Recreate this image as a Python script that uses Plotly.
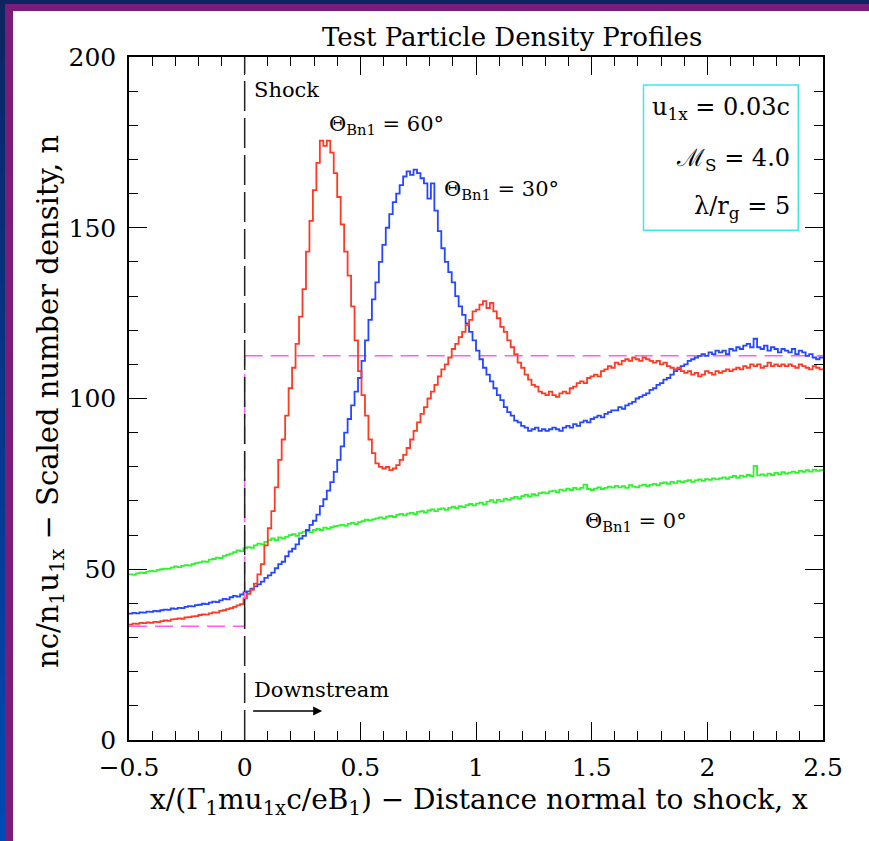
import numpy as np
import plotly.graph_objects as go

# ---------------- data ----------------
bin_start = -0.5
bin_width = 0.015

red_60 = [
    33.8, 34.1, 34.0, 34.3, 34.2, 34.4, 34.3, 34.6, 34.5, 34.8,
    35.0, 34.9, 35.3, 35.4, 35.6, 35.5, 35.9, 36.0, 36.2, 36.3,
    36.6, 36.8, 36.7, 37.1, 37.4, 37.3, 37.8, 38.0, 38.3, 38.6,
    39.0, 39.4, 39.8, 41.5, 42.8, 44.0, 45.8, 48.5, 51.5, 57.0,
    62, 67, 74, 82, 88, 95, 103, 109, 116, 124,
    132, 143, 152, 161, 169, 175.5, 174, 175.5, 172, 166,
    159, 151, 143, 136, 127, 117, 108, 101, 95, 88,
    84, 81, 80, 79.5, 80, 79, 79.5, 80.5, 82, 83.5,
    85.5, 88, 90.5, 93, 95.5, 97.5, 100, 102, 104, 106.5,
    108.5, 110, 112, 114.5, 116, 118, 119.5, 121.5, 123, 125.5,
    126, 127.5, 128.5, 126.5, 128, 125.5, 123.5, 121, 119.5, 117,
    115, 113, 110.5, 109, 107, 105.5, 104, 103.5, 102, 101.5,
    101, 102, 101, 100.5, 101.5, 102, 101.5, 103, 103.5, 104.5,
    105, 104.5, 106, 106.5, 107, 106.5, 108, 108.5, 109.5, 109,
    110.5, 110, 111, 111.5, 111, 112, 111.5, 111, 112, 111.5,
    111, 110.5, 111, 110, 110.5, 109.5, 109, 108.5, 109, 108,
    107.5, 108, 107, 107.5, 106.5, 107, 108, 107.5, 107, 108,
    107.5, 108, 108.5, 108, 108.5, 109, 108.5, 109.5, 109, 110,
    109.5, 110, 109, 109.5, 110.5, 109.5, 110, 109.5, 110, 109.5,
    110, 109.5, 109, 110, 109.5, 109, 108.5, 109.5, 109, 108.5,
]

blue_30 = [
    37.0, 37.2, 37.1, 37.4, 37.3, 37.6, 37.5, 37.8, 37.7, 38.0,
    38.2, 38.1, 38.5, 38.4, 38.7, 38.6, 39.0, 39.2, 39.1, 39.5,
    39.6, 39.9, 39.8, 40.2, 40.5, 40.4, 40.9, 41.3, 41.2, 41.8,
    42.2, 42.0, 42.6, 43.2, 43.5, 44.3, 45.0, 45.6, 46.4, 47.5,
    48.2, 49.0, 50.3, 51.5, 52.2, 53.8, 55.2, 56.0, 57.3, 59.0,
    59.8, 61.5, 63.0, 64.2, 66.0, 68.5, 70.5, 73.0, 75.5, 78.5,
    82, 86, 90, 94, 98, 102, 106, 111, 117, 123,
    129, 134, 140, 145, 150, 154, 157.5, 160, 162.5, 165,
    166.5, 165.5, 167, 166, 164.5, 163, 158.5, 163, 155, 149,
    144, 140, 137, 134, 130, 127, 124.5, 122, 119.5, 117,
    114, 111.5, 109, 107, 105, 103, 101, 99.5, 97.5, 96,
    95, 93.5, 93, 92, 91.5, 90.5, 91, 91.5, 90.5, 91,
    90.5, 91, 91.5, 91, 90.5, 91.5, 92, 91.5, 92.5, 92,
    93, 93.5, 93, 94, 94.5, 95, 94.5, 95.5, 96, 96.5,
    96.5, 97.5, 97, 98, 98.5, 99, 100, 100.5, 101, 101.5,
    102.5, 103, 104, 104.5, 105.5, 106, 107, 108, 108.5, 109.5,
    110, 111, 111.5, 112, 112.5, 113, 112.5, 113.5, 113, 114,
    113.5, 114, 113, 114.5, 114, 115, 114.5, 115.5, 116, 115,
    117.5, 115, 114.5, 115.5, 114, 115, 114.5, 113.5, 114.5, 114,
    113.5, 114.5, 113, 114, 113.5, 112.5, 113, 112, 111.5, 112,
]

green_0 = [
    48.5, 48.4, 48.8, 49.0, 48.9, 49.3, 49.5, 49.4, 49.8, 50.0,
    50.2, 50.1, 50.5, 50.8, 50.6, 51.0, 51.2, 51.1, 51.5, 51.8,
    52.0, 52.3, 52.2, 52.8, 53.0, 53.4, 53.3, 53.9, 54.2, 54.6,
    55.0, 55.5, 55.3, 56.2, 56.5, 56.3, 57.0, 57.5, 57.3, 58.0,
    58.5, 59.0, 58.5, 59.3, 59.0, 59.5, 60.0, 60.3, 59.8, 60.6,
    61.0, 61.2, 60.8, 61.5, 61.8, 61.5, 62.2, 61.8, 62.3, 62.6,
    62.8, 63.0, 62.7, 63.3, 63.6, 63.2, 63.8, 64.1, 64.5, 64.3,
    64.6, 64.9, 65.2, 64.8, 65.4, 65.6, 65.3, 65.9, 66.2, 65.8,
    66.3, 66.5, 66.1, 66.8, 67.0, 66.6, 67.2, 67.5, 67.0, 67.6,
    67.8, 67.4, 68.0, 68.3, 67.9, 68.5, 68.2, 68.8, 69.1, 68.7,
    69.2, 69.5, 69.0, 69.8, 70.2, 69.6, 70.3, 69.9, 70.6, 70.3,
    70.8, 71.2, 70.7, 71.4, 71.8, 71.3, 72.0, 71.6, 72.3, 72.5,
    72.2, 72.8, 73.0, 72.5, 73.3, 73.0, 73.6, 73.2, 73.8, 73.4,
    73.8, 74.8, 73.5, 73.2, 73.6, 74.0, 73.5, 73.8, 74.2, 73.9,
    74.4, 74.0, 74.3, 73.8, 74.6, 74.2, 74.0, 74.5, 74.8, 74.3,
    74.7, 75.0, 74.6, 75.2, 75.4, 75.0, 75.6, 75.3, 75.8, 75.5,
    75.8, 76.1, 75.6, 76.0, 76.3, 75.9, 76.4, 76.2, 76.6, 76.3,
    76.6, 76.9, 76.5, 77.0, 77.3, 76.8, 77.4, 77.1, 77.6, 77.3,
    80.3, 77.5, 77.8, 77.4, 78.0, 77.6, 78.2, 77.8, 78.4, 78.0,
    78.3, 78.6, 78.2, 78.8, 78.5, 79.0, 78.6, 79.2, 78.8, 79.0,
]

upstream_density = 33.3
downstream_density = 112.5

x_tick_vals = [-0.5, 0, 0.5, 1, 1.5, 2, 2.5]
y_tick_vals = [0, 50, 100, 150, 200]

# ---------------- figure ----------------
W, H = 869, 841
ML, MR, MT, MB = 129, 46, 57, 101
PW, PH = W - ML - MR, H - MT - MB


def px(xp):
    return (xp - ML) / PW


def py(yp):
    return (H - MB - yp) / PH


FONT = "DejaVu Serif"

edges = bin_start + bin_width * np.arange(len(red_60) + 1)


def step(vals):
    return list(vals) + [vals[-1]]


fig = go.Figure()
for vals, col in [(green_0, "#2cf52c"), (blue_30, "#2447ff"), (red_60, "#ff3a22")]:
    fig.add_trace(go.Scatter(x=edges, y=step(vals), mode="lines",
                             line=dict(color=col, width=1.8, shape="hv"),
                             hoverinfo="skip", showlegend=False))

shapes = []
# background frame (outside the plotting area)
shapes.append(dict(type="rect", xref="paper", yref="paper", x0=px(0), x1=px(W),
                   y0=py(4), y1=py(0), fillcolor="#0c2662", line_width=0, layer="below"))
shapes.append(dict(type="rect", xref="paper", yref="paper", x0=px(5), x1=px(W),
                   y0=py(11), y1=py(4), fillcolor="#7b1b7a", line_width=0, layer="below"))
shapes.append(dict(type="rect", xref="paper", yref="paper", x0=px(5), x1=px(13),
                   y0=py(H), y1=py(4), fillcolor="#7b1b7a", line_width=0, layer="below"))
nseg = 30
c0 = np.array([0x0c, 0x26, 0x62])
c1 = np.array([0x00, 0x4a, 0xb4])
for i in range(nseg):
    t = i / (nseg - 1)
    c = (c0 * (1 - t) + c1 * t).astype(int)
    shapes.append(dict(type="rect", xref="paper", yref="paper", x0=px(0), x1=px(5),
                       y0=py(4 + (H - 4) * (i + 1) / nseg + 1), y1=py(4 + (H - 4) * i / nseg),
                       fillcolor="rgb(%d,%d,%d)" % tuple(c), line_width=0, layer="below"))

# magenta Rankine-Hugoniot step
mag = dict(color="#ff5cf5", width=1.5, dash="18px,8px")
shapes.append(dict(type="line", x0=-0.5, x1=0, y0=upstream_density, y1=upstream_density, line=mag))
shapes.append(dict(type="line", x0=0, x1=0, y0=upstream_density, y1=downstream_density, line=mag))
shapes.append(dict(type="line", x0=0, x1=2.5, y0=downstream_density, y1=downstream_density, line=mag,
                   layer="below"))
# shock line
shapes.append(dict(type="line", x0=0, x1=0, y0=0, y1=200,
                   line=dict(color="#222222", width=1.5, dash="30px,7px")))
# info box
shapes.append(dict(type="rect", x0=1.724, x1=2.393, y0=149.3, y1=191.8,
                   line=dict(color="#3ee6ee", width=1.5), fillcolor="rgba(0,0,0,0)"))

ann = []
ann.append(dict(text="Test Particle Density Profiles", xref="paper", yref="paper",
                x=px(512), y=py(37), showarrow=False, xanchor="center", yanchor="middle",
                font=dict(family=FONT, size=26, color="black")))
ann.append(dict(text="x/(Γ<sub>1</sub>mu<sub>1x</sub>c/eB<sub>1</sub>) − Distance normal to shock, x",
                xref="paper", yref="paper", x=px(479), y=py(801), showarrow=False,
                xanchor="center", yanchor="middle", font=dict(family=FONT, size=28, color="black")))
ann.append(dict(text="nc/n<sub>1</sub>u<sub>1x</sub> − Scaled number density, n",
                xref="paper", yref="paper", x=px(50), y=py(402), showarrow=False, textangle=-90,
                xanchor="center", yanchor="middle", font=dict(family=FONT, size=29, color="black")))

af = dict(family=FONT, size=21, color="black")
ann.append(dict(text="Shock", x=0.03, y=190.3, showarrow=False, xanchor="left", yanchor="middle", font=af))
ann.append(dict(text="Θ<sub>Bn1</sub> = 60°", x=0.354, y=180, showarrow=False,
                xanchor="left", yanchor="middle", font=af))
ann.append(dict(text="Θ<sub>Bn1</sub> = 30°", x=0.855, y=161, showarrow=False,
                xanchor="left", yanchor="middle", font=af))
ann.append(dict(text="Θ<sub>Bn1</sub> = 0°", x=1.464, y=63.8, showarrow=False,
                xanchor="left", yanchor="middle", font=af))
ann.append(dict(text="Downstream", x=0.03, y=14.6, showarrow=False,
                xanchor="left", yanchor="middle", font=af))
ann.append(dict(text="", x=0.335, y=8.5, ax=0.03, ay=8.5, axref="x", ayref="y",
                showarrow=True, arrowhead=2, arrowsize=1.2, arrowwidth=1.5, arrowcolor="black"))

bf = dict(family=FONT, size=24, color="black")
for txt, yy in [("u<sub>1x</sub> = 0.03c", 185.0), ("ℳ<sub>S</sub> = 4.0", 170.0),
                ("λ/r<sub>g</sub> = 5", 156.0)]:
    ann.append(dict(text=txt, x=2.367, y=yy, showarrow=False, xanchor="right",
                    yanchor="middle", font=bf))

axis_common = dict(showline=True, linecolor="black", linewidth=1.5, mirror="allticks",
                   ticks="inside", ticklen=18, tickwidth=1.3, tickcolor="black",
                   showgrid=False, zeroline=False,
                   tickfont=dict(family=FONT, size=25, color="black"))

fig.update_layout(
    width=W, height=H,
    margin=dict(l=ML, r=MR, t=MT, b=MB, pad=0),
    paper_bgcolor="white", plot_bgcolor="white",
    showlegend=False,
    shapes=shapes, annotations=ann,
    xaxis=dict(range=[-0.5, 2.5], tickvals=x_tick_vals, ticklabelstandoff=4,
               minor=dict(dtick=0.1, ticks="inside", ticklen=9, tickwidth=1.3, tickcolor="black"),
               **axis_common),
    yaxis=dict(range=[0, 200], tickvals=y_tick_vals, ticklabelstandoff=6,
               minor=dict(dtick=10, ticks="inside", ticklen=9, tickwidth=1.3, tickcolor="black"),
               **axis_common),
)

fig.write_html("out.html")
